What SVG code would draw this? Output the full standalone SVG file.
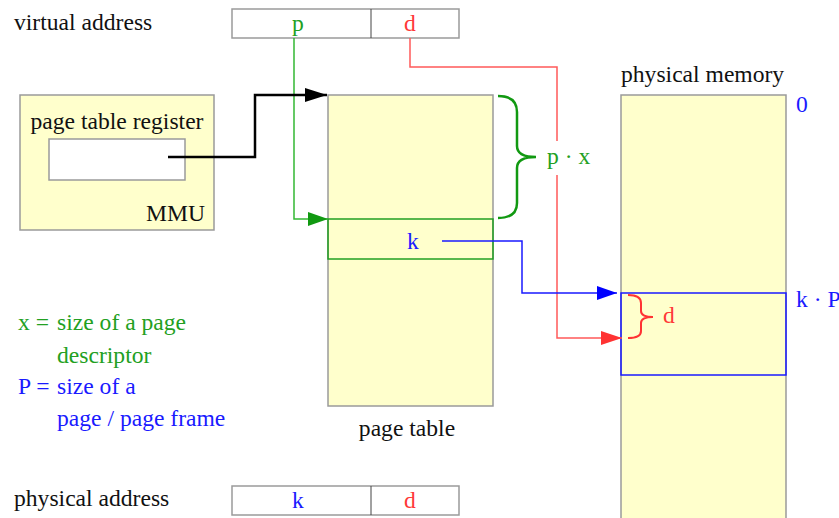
<svg xmlns="http://www.w3.org/2000/svg" width="839" height="518" viewBox="0 0 839 518">
<style>
text{font-family:"Liberation Serif","Times New Roman",serif;font-size:23.6px;fill:#111}
.box{fill:#ffffcc;stroke:#9a9a9a;stroke-width:1.5}
.wbox{fill:#fff;stroke:#9a9a9a;stroke-width:1.5}
.g{fill:#22a022}
.r{fill:#ff3838}
.b{fill:#1a1aff}
.mid{text-anchor:middle}
.conn{fill:none}
</style>
<defs>
<marker id="ak" viewBox="0 0 22 14" refX="22" refY="7" markerWidth="22" markerHeight="14" markerUnits="userSpaceOnUse" orient="auto"><path d="M0,0 L22,7 L0,14 z" fill="#000"/></marker>
<marker id="ag" viewBox="0 0 20 14" refX="20" refY="7" markerWidth="20" markerHeight="14" markerUnits="userSpaceOnUse" orient="auto"><path d="M0,0 L20,7 L0,14 z" fill="#119911"/></marker>
<marker id="ab" viewBox="0 0 20 14" refX="20" refY="7" markerWidth="20" markerHeight="14" markerUnits="userSpaceOnUse" orient="auto"><path d="M0,0 L20,7 L0,14 z" fill="#0000ff"/></marker>
<marker id="ar" viewBox="0 0 21 14" refX="21" refY="7" markerWidth="21" markerHeight="14" markerUnits="userSpaceOnUse" orient="auto"><path d="M0,0 L21,7 L0,14 z" fill="#ff3333"/></marker>
</defs>
<rect width="839" height="518" fill="#fff"/>

<g id="virtual-address">
<text x="14" y="30">virtual address</text>
<rect class="wbox" x="232" y="9" width="227" height="29"/>
<line x1="371" y1="9" x2="371" y2="38" stroke="#444" stroke-width="1"/>
<text class="g mid" x="298" y="31">p</text>
<text class="r mid" x="410" y="31">d</text>
</g>

<g id="mmu">
<rect class="box" x="20" y="95" width="194" height="135"/>
<text class="mid" x="117" y="129">page table register</text>
<rect class="wbox" x="49" y="139" width="136" height="41"/>
<text x="205" y="221" text-anchor="end">MMU</text>
</g>

<g id="page-table">
<rect class="box" x="328" y="95" width="165" height="311"/>
<rect x="328" y="219" width="165" height="40" fill="none" stroke="#22a022" stroke-width="1.5"/>
<text class="b mid" x="413" y="249">k</text>
<text class="mid" x="407" y="436">page table</text>
</g>

<g id="physical-memory">
<text x="621" y="82">physical memory</text>
<rect class="box" x="621" y="95" width="165" height="430"/>
<rect x="621" y="293" width="165" height="82" fill="none" stroke="#1a1aff" stroke-width="1.5"/>
<text class="b" x="796" y="112">0</text>
<text class="b" x="796" y="307">k · P</text>
</g>

<g id="connectors" class="conn">
<path d="M294,38 V219 H328" stroke="#33b833" stroke-width="1.5" marker-end="url(#ag)"/>
<path d="M410,38 V67 H557 V338 H622" stroke="#ff5a5a" stroke-width="1.5" marker-end="url(#ar)"/>
<path d="M442,241 H522 V293 H617" stroke="#1a1aff" stroke-width="1.5" marker-end="url(#ab)"/>
<path d="M168,157 H255 V95 H327" stroke="#000" stroke-width="2.5" marker-end="url(#ak)"/>
</g>

<g id="brace-px">
<path d="M498,96 Q517,96 517,112 L517,146 Q517,157 536,157 Q517,157 517,168 L517,203 Q517,218 498,218" fill="none" stroke="#119911" stroke-width="2.5"/>
<rect x="545" y="141" width="46" height="34" fill="#fff"/>
<text class="g" x="547" y="164">p · x</text>
</g>

<g id="brace-d">
<path d="M628,295 Q641,295 641,303 L641,311 Q641,317 653,317 Q641,317 641,323 L641,331 Q641,338 628,338" fill="none" stroke="#ff3333" stroke-width="2"/>
<text class="r" x="663" y="323">d</text>
</g>

<g id="legend">
<text class="g" x="18" y="330">x =</text>
<text class="g" x="57" y="330">size of a page</text>
<text class="g" x="57" y="363">descriptor</text>
<text class="b" x="18" y="394">P =</text>
<text class="b" x="57" y="394">size of a</text>
<text class="b" x="57" y="426">page / page frame</text>
</g>

<g id="physical-address">
<text x="14" y="506">physical address</text>
<rect class="wbox" x="232" y="486" width="227" height="29"/>
<line x1="371" y1="486" x2="371" y2="515" stroke="#444" stroke-width="1"/>
<text class="b mid" x="298" y="508">k</text>
<text class="r mid" x="410" y="508">d</text>
</g>
</svg>
